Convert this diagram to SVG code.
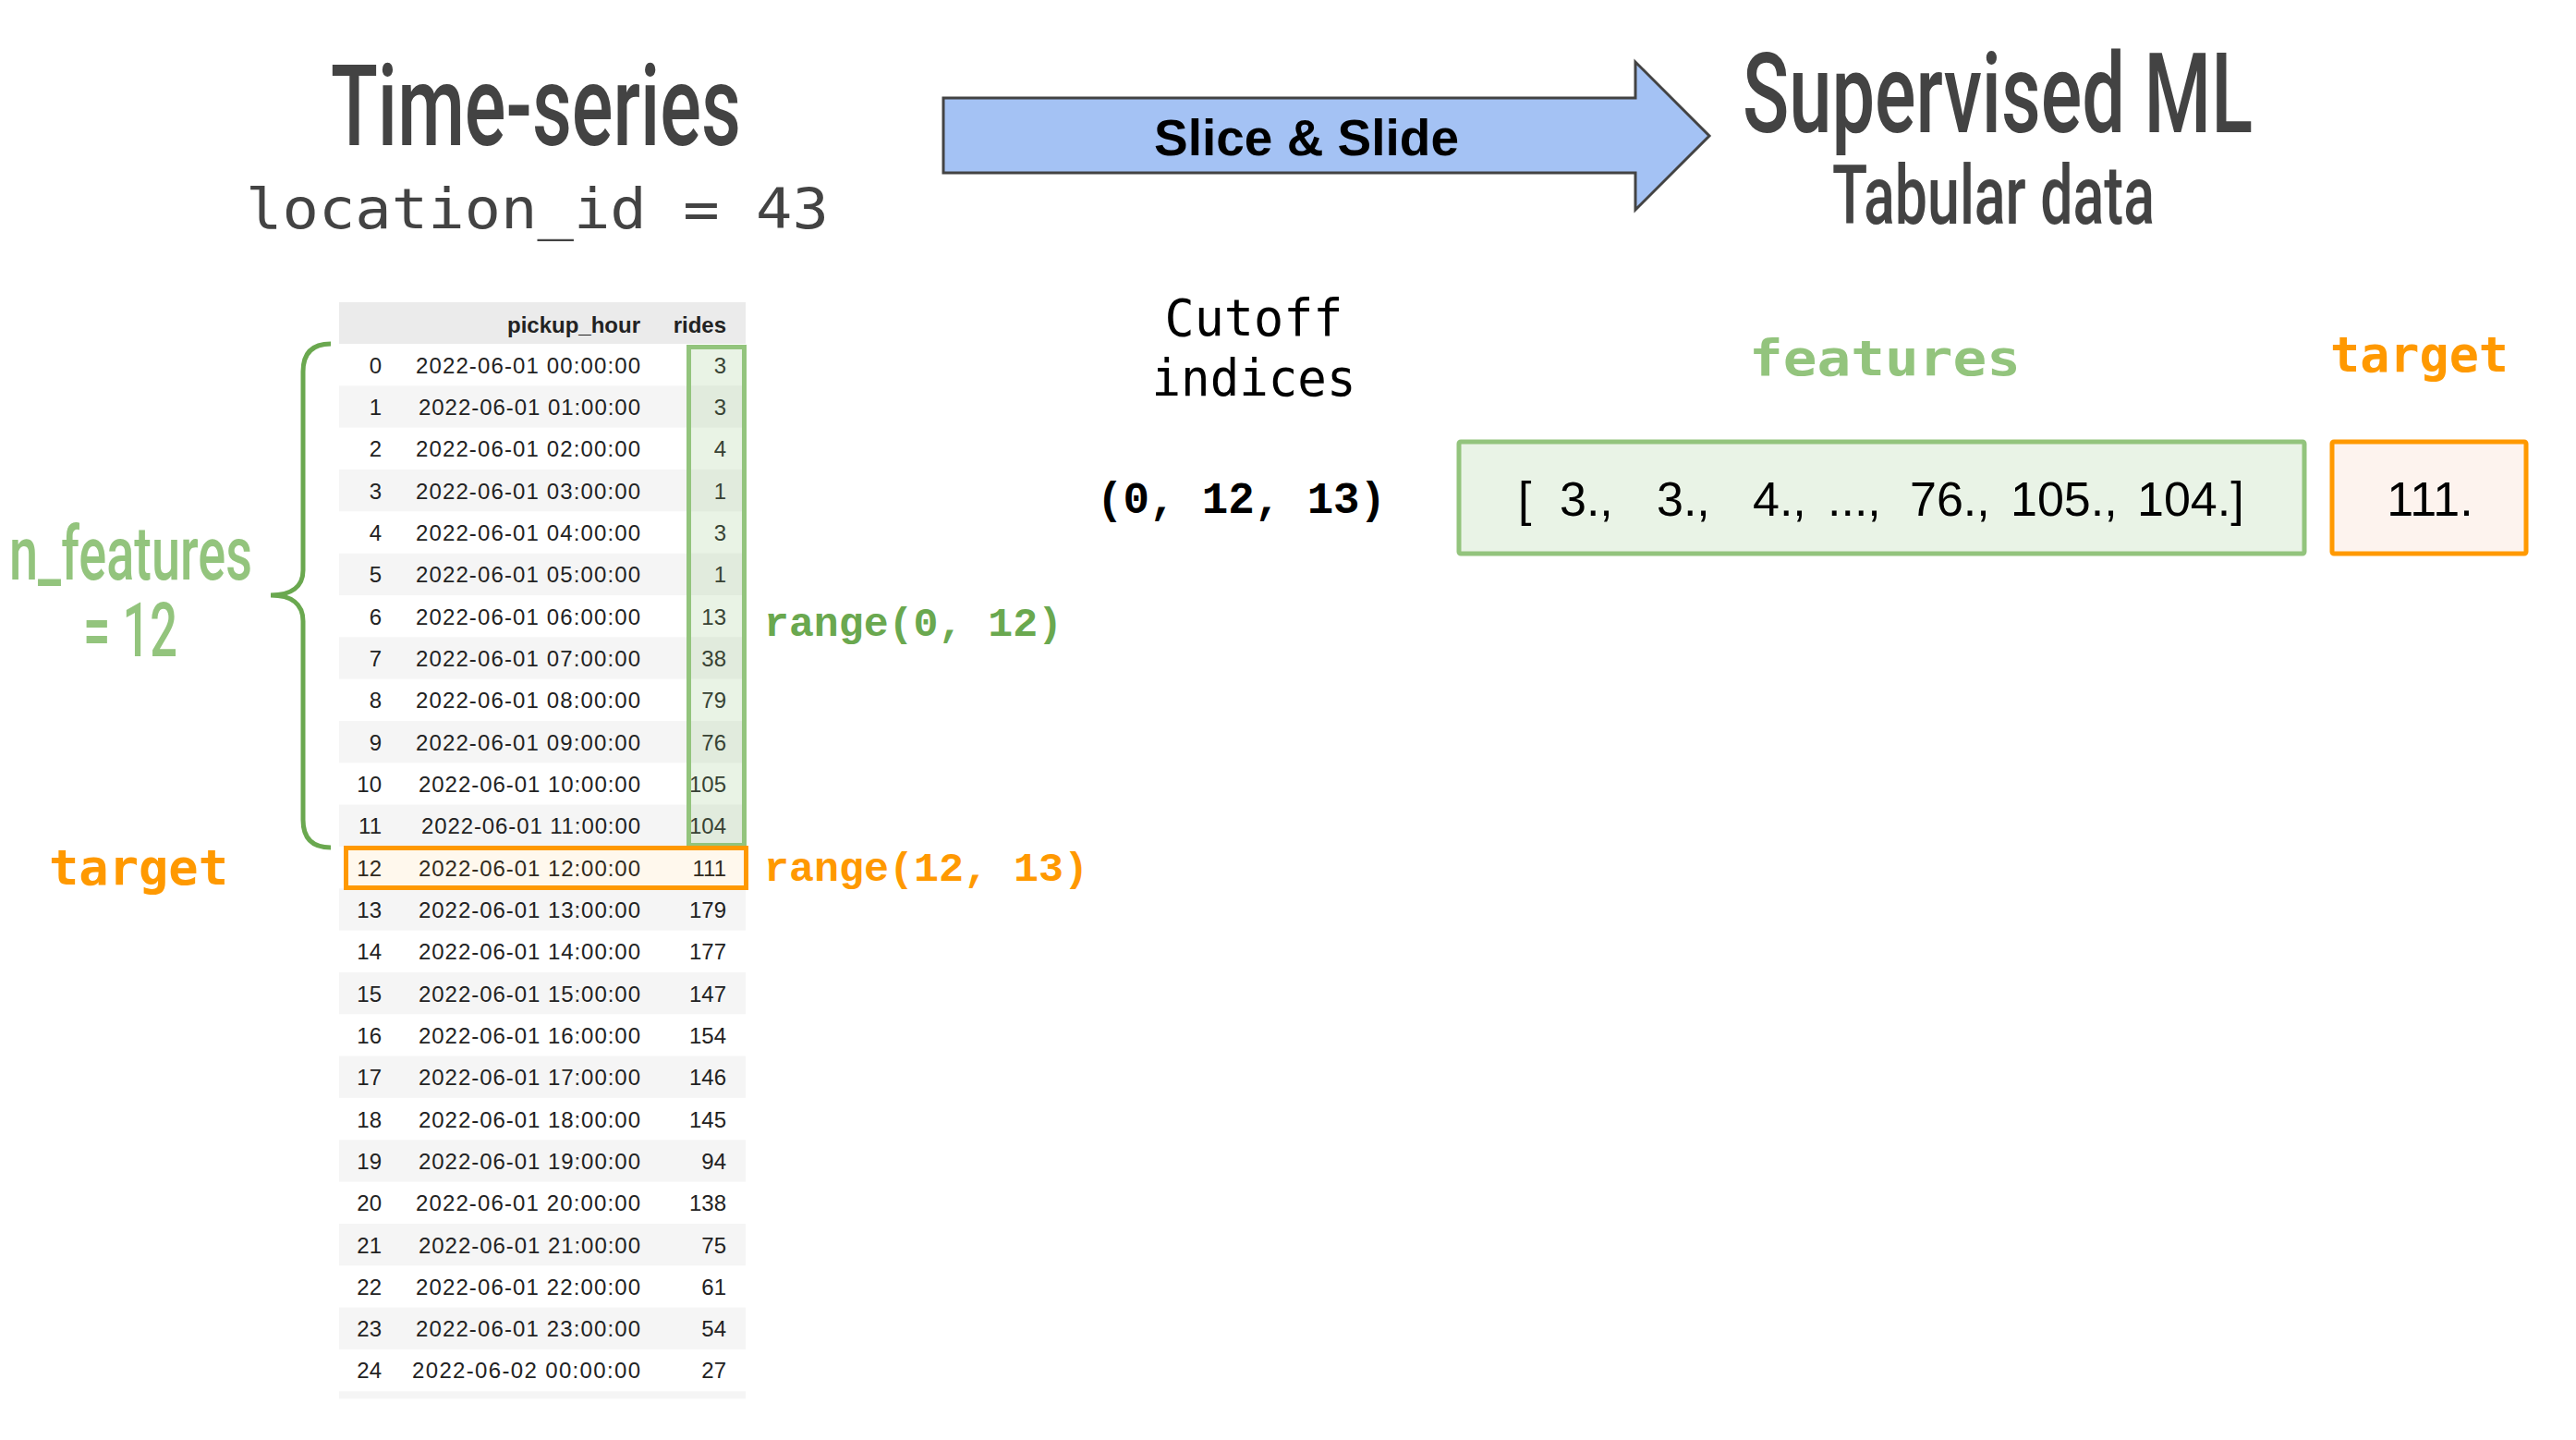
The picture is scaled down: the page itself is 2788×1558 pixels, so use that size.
<svg xmlns="http://www.w3.org/2000/svg" width="2788" height="1558" viewBox="0 0 2788 1558">
<style>
.title{font-family:Roboto,"Liberation Sans",sans-serif;font-weight:500;fill:#434343}
.mono{font-family:"DejaVu Sans Mono","Liberation Mono",monospace}
.cour{font-family:"Liberation Mono","Courier New",monospace;font-weight:bold}
.td{font-family:"Liberation Sans",Arial,sans-serif;font-size:24px;fill:#222;text-anchor:end}
.th{font-family:"Liberation Sans",Arial,sans-serif;font-size:24px;font-weight:bold;fill:#222;text-anchor:end}
.gray{fill:#f5f5f5}
.val{font-family:"Liberation Sans",Arial,sans-serif;font-size:52px;fill:#000}
</style>
<rect width="2788" height="1558" fill="#fff"/>

<g id="title-timeseries">
<text class="title" x="358" y="157" font-size="122" textLength="444" lengthAdjust="spacingAndGlyphs">Time-series</text>
<text class="mono" x="266" y="247" font-size="60" fill="#434343" textLength="631" lengthAdjust="spacingAndGlyphs">location_id = 43</text>
</g>

<g id="title-supervised">
<text class="title" x="1886" y="143" font-size="121" textLength="552" lengthAdjust="spacingAndGlyphs">Supervised ML</text>
<text class="title" x="1983" y="242" font-size="89" textLength="349" lengthAdjust="spacingAndGlyphs">Tabular data</text>
</g>

<g id="connectors">
<polygon points="1021,106 1770,106 1770,67 1850,147 1770,227 1770,187 1021,187" fill="#a4c2f4" stroke="#434343" stroke-width="3" stroke-linejoin="miter"/>
<text x="1249" y="168" font-family="'Liberation Sans',Arial,sans-serif" font-weight="bold" font-size="56" fill="#000" textLength="330" lengthAdjust="spacingAndGlyphs">Slice &amp; Slide</text>
</g>

<g id="table">
<rect x="367" y="327" width="440" height="45" fill="#ebebeb"/>
<rect class="gray" x="367" y="417.3" width="440" height="45.3"/>
<rect class="gray" x="367" y="508.0" width="440" height="45.3"/>
<rect class="gray" x="367" y="598.7" width="440" height="45.3"/>
<rect class="gray" x="367" y="689.3" width="440" height="45.3"/>
<rect class="gray" x="367" y="780.0" width="440" height="45.3"/>
<rect class="gray" x="367" y="870.6" width="440" height="45.3"/>
<rect class="gray" x="367" y="961.3" width="440" height="45.3"/>
<rect class="gray" x="367" y="1052.0" width="440" height="45.3"/>
<rect class="gray" x="367" y="1142.6" width="440" height="45.3"/>
<rect class="gray" x="367" y="1233.3" width="440" height="45.3"/>
<rect class="gray" x="367" y="1324.0" width="440" height="45.3"/>
<rect class="gray" x="367" y="1414.6" width="440" height="45.3"/>
<rect class="gray" x="367" y="1505.3" width="440" height="8"/>
<text class="th" x="693" y="360">pickup_hour</text>
<text class="th" x="786" y="360">rides</text>
<g>
<text class="td" x="413" y="403.5">0</text><text class="td" x="693" y="403.5" textLength="243">2022-06-01 00:00:00</text><text class="td" x="786" y="403.5">3</text>
<text class="td" x="413" y="448.8">1</text><text class="td" x="693" y="448.8" textLength="240">2022-06-01 01:00:00</text><text class="td" x="786" y="448.8">3</text>
<text class="td" x="413" y="494.2">2</text><text class="td" x="693" y="494.2" textLength="243">2022-06-01 02:00:00</text><text class="td" x="786" y="494.2">4</text>
<text class="td" x="413" y="539.5">3</text><text class="td" x="693" y="539.5" textLength="243">2022-06-01 03:00:00</text><text class="td" x="786" y="539.5">1</text>
<text class="td" x="413" y="584.8">4</text><text class="td" x="693" y="584.8" textLength="243">2022-06-01 04:00:00</text><text class="td" x="786" y="584.8">3</text>
<text class="td" x="413" y="630.2">5</text><text class="td" x="693" y="630.2" textLength="243">2022-06-01 05:00:00</text><text class="td" x="786" y="630.2">1</text>
<text class="td" x="413" y="675.5">6</text><text class="td" x="693" y="675.5" textLength="243">2022-06-01 06:00:00</text><text class="td" x="786" y="675.5">13</text>
<text class="td" x="413" y="720.8">7</text><text class="td" x="693" y="720.8" textLength="243">2022-06-01 07:00:00</text><text class="td" x="786" y="720.8">38</text>
<text class="td" x="413" y="766.1">8</text><text class="td" x="693" y="766.1" textLength="243">2022-06-01 08:00:00</text><text class="td" x="786" y="766.1">79</text>
<text class="td" x="413" y="811.5">9</text><text class="td" x="693" y="811.5" textLength="243">2022-06-01 09:00:00</text><text class="td" x="786" y="811.5">76</text>
<text class="td" x="413" y="856.8">10</text><text class="td" x="693" y="856.8" textLength="240">2022-06-01 10:00:00</text><text class="td" x="786" y="856.8">105</text>
<text class="td" x="413" y="902.1">11</text><text class="td" x="693" y="902.1" textLength="237">2022-06-01 11:00:00</text><text class="td" x="786" y="902.1">104</text>
<text class="td" x="413" y="947.5">12</text><text class="td" x="693" y="947.5" textLength="240">2022-06-01 12:00:00</text><text class="td" x="786" y="947.5">111</text>
<text class="td" x="413" y="992.8">13</text><text class="td" x="693" y="992.8" textLength="240">2022-06-01 13:00:00</text><text class="td" x="786" y="992.8">179</text>
<text class="td" x="413" y="1038.1">14</text><text class="td" x="693" y="1038.1" textLength="240">2022-06-01 14:00:00</text><text class="td" x="786" y="1038.1">177</text>
<text class="td" x="413" y="1083.5">15</text><text class="td" x="693" y="1083.5" textLength="240">2022-06-01 15:00:00</text><text class="td" x="786" y="1083.5">147</text>
<text class="td" x="413" y="1128.8">16</text><text class="td" x="693" y="1128.8" textLength="240">2022-06-01 16:00:00</text><text class="td" x="786" y="1128.8">154</text>
<text class="td" x="413" y="1174.1">17</text><text class="td" x="693" y="1174.1" textLength="240">2022-06-01 17:00:00</text><text class="td" x="786" y="1174.1">146</text>
<text class="td" x="413" y="1219.5">18</text><text class="td" x="693" y="1219.5" textLength="240">2022-06-01 18:00:00</text><text class="td" x="786" y="1219.5">145</text>
<text class="td" x="413" y="1264.8">19</text><text class="td" x="693" y="1264.8" textLength="240">2022-06-01 19:00:00</text><text class="td" x="786" y="1264.8">94</text>
<text class="td" x="413" y="1310.1">20</text><text class="td" x="693" y="1310.1" textLength="243">2022-06-01 20:00:00</text><text class="td" x="786" y="1310.1">138</text>
<text class="td" x="413" y="1355.5">21</text><text class="td" x="693" y="1355.5" textLength="240">2022-06-01 21:00:00</text><text class="td" x="786" y="1355.5">75</text>
<text class="td" x="413" y="1400.8">22</text><text class="td" x="693" y="1400.8" textLength="243">2022-06-01 22:00:00</text><text class="td" x="786" y="1400.8">61</text>
<text class="td" x="413" y="1446.1">23</text><text class="td" x="693" y="1446.1" textLength="243">2022-06-01 23:00:00</text><text class="td" x="786" y="1446.1">54</text>
<text class="td" x="413" y="1491.4">24</text><text class="td" x="693" y="1491.4" textLength="247">2022-06-02 00:00:00</text><text class="td" x="786" y="1491.4">27</text>
</g>
</g>

<g id="features-highlight">
<rect x="745.5" y="375.5" width="60" height="539" fill="#93c47d" fill-opacity="0.2" stroke="#93c47d" stroke-width="5"/>
<path d="M358,372 C338,372 328,382 328,402 L328,617 C328,635 315,644 293,644 C315,644 328,653 328,672 L328,887 C328,907 338,917 358,917" fill="none" stroke="#6aa84f" stroke-width="5"/>
<text x="10" y="627" font-family="Roboto,'Liberation Sans',sans-serif" font-weight="500" font-size="82" fill="#93c47d" textLength="263" lengthAdjust="spacingAndGlyphs">n_features</text>
<text x="90" y="710" font-family="Roboto,'Liberation Sans',sans-serif" font-weight="500" font-size="82" fill="#93c47d" textLength="102" lengthAdjust="spacingAndGlyphs">= 12</text>
<text class="cour" x="827" y="688" font-size="45" fill="#6aa84f" textLength="323" lengthAdjust="spacingAndGlyphs">range(0, 12)</text>
</g>

<g id="target-highlight">
<rect x="374.5" y="917.5" width="433" height="43" fill="#ff9900" fill-opacity="0.07" stroke="#ff9900" stroke-width="5"/>
<text class="mono" x="53" y="957" font-size="54" font-weight="bold" fill="#ff9900" textLength="194" lengthAdjust="spacingAndGlyphs">target</text>
<text class="cour" x="827" y="953" font-size="45" fill="#ff9900" textLength="351" lengthAdjust="spacingAndGlyphs">range(12, 13)</text>
</g>

<g id="cutoff-indices">
<text class="mono" x="1357" y="363" font-size="55" fill="#000" text-anchor="middle" textLength="193" lengthAdjust="spacingAndGlyphs">Cutoff</text>
<text class="mono" x="1357" y="428" font-size="55" fill="#000" text-anchor="middle" textLength="221" lengthAdjust="spacingAndGlyphs">indices</text>
<text class="cour" x="1187" y="555" font-size="48" fill="#000" textLength="313" lengthAdjust="spacingAndGlyphs">(0, 12, 13)</text>
</g>

<g id="features-vector">
<text class="mono" x="1893" y="406" font-size="54" font-weight="bold" fill="#93c47d" textLength="294" lengthAdjust="spacingAndGlyphs">features</text>
<rect x="1579" y="478" width="915" height="121" fill="#e9f3e6" stroke="#93c47d" stroke-width="5" rx="2"/>
<text class="val" y="558"><tspan x="1643">[</tspan><tspan x="1688">3.,</tspan><tspan x="1793">3.,</tspan><tspan x="1897">4.,</tspan><tspan x="1978">...,</tspan><tspan x="2067">76.,</tspan><tspan x="2176">105.,</tspan><tspan x="2313">104.]</tspan></text>
</g>

<g id="target-value">
<text class="mono" x="2522" y="402" font-size="54" font-weight="bold" fill="#ff9900" textLength="193" lengthAdjust="spacingAndGlyphs">target</text>
<rect x="2524" y="478" width="210" height="121" fill="#fdf3ee" stroke="#ff9900" stroke-width="5" rx="2"/>
<text class="val" x="2630" y="558" text-anchor="middle">111.</text>
</g>
</svg>
